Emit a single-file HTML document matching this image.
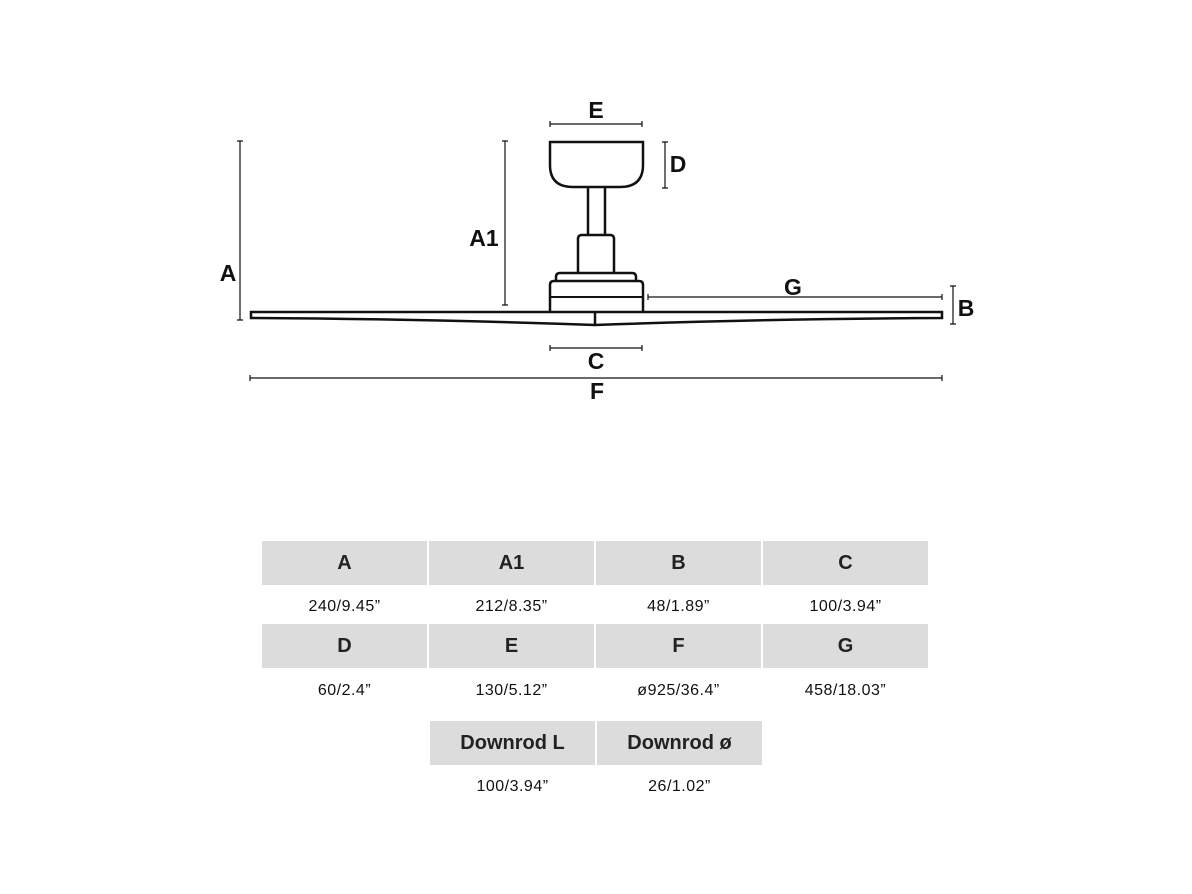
<!DOCTYPE html>
<html><head><style>
body{margin:0;background:#fff;width:1192px;height:894px;overflow:hidden;font-family:"Liberation Sans",sans-serif;position:relative}
.h{position:absolute;background:#dcdcdc;font-weight:bold;font-size:20px;color:#222;display:flex;align-items:center;justify-content:center;height:44px}
.v{position:absolute;font-size:16px;color:#111;text-align:center;letter-spacing:0.5px}
</style></head><body>
<svg width="1192" height="894" style="position:absolute;left:0;top:0" font-family="Liberation Sans, sans-serif" font-weight="bold" font-size="23" fill="none" stroke="#111">
<path d="M550 142 H643 V165 Q643 187 620 187 H573 Q550 187 550 165 Z" stroke-width="2.5"/>
<path d="M588 187 V235 M605 187 V235" stroke-width="2.5"/>
<path d="M578 273 V239 Q578 235 582 235 H610 Q614 235 614 239 V273" stroke-width="2.5"/>
<path d="M556 281 V277 Q556 273 560 273 H632 Q636 273 636 277 V281" stroke-width="2.5"/>
<path d="M550 312 V285 Q550 281 554 281 H639 Q643 281 643 285 V312" stroke-width="2.5"/>
<line x1="550" y1="297" x2="643" y2="297" stroke-width="2"/>
<path d="M251 312 H942 V318 Q760 319 595 325 Q430 319 251 318 Z" stroke-width="2.5"/>
<line x1="595" y1="313" x2="595" y2="325" stroke-width="2.5"/>
<g stroke-width="1.2">
<path d="M240 141 V320 M237 141 H243 M237 320 H243"/>
<path d="M505 141 V305 M502 141 H508 M502 305 H508"/>
<path d="M550 124 H642 M550 121 V127 M642 121 V127"/>
<path d="M665 142 V188 M662 142 H668 M662 188 H668"/>
<path d="M648 297 H942 M648 294 V300 M942 294 V300"/>
<path d="M953 286 V324 M950 286 H956 M950 324 H956"/>
<path d="M550 348 H642 M550 345 V351 M642 345 V351"/>
<path d="M250 378 H942 M250 375 V381 M942 375 V381"/>
</g>
<g fill="#111" stroke="none" text-anchor="middle">
<text x="596" y="118">E</text>
<text x="678" y="172">D</text>
<text x="484" y="246">A1</text>
<text x="228" y="281">A</text>
<text x="793" y="295">G</text>
<text x="966" y="316">B</text>
<text x="596" y="369">C</text>
<text x="597" y="399">F</text>
</g>
</svg>
<div class="h" style="left:262px;top:541px;width:165px">A</div>
<div class="h" style="left:429px;top:541px;width:165px">A1</div>
<div class="h" style="left:596px;top:541px;width:165px">B</div>
<div class="h" style="left:763px;top:541px;width:165px">C</div>
<div class="v" style="left:262px;top:598px;width:165px">240/9.45”</div>
<div class="v" style="left:429px;top:598px;width:165px">212/8.35”</div>
<div class="v" style="left:596px;top:598px;width:165px">48/1.89”</div>
<div class="v" style="left:763px;top:598px;width:165px">100/3.94”</div>
<div class="h" style="left:262px;top:624px;width:165px">D</div>
<div class="h" style="left:429px;top:624px;width:165px">E</div>
<div class="h" style="left:596px;top:624px;width:165px">F</div>
<div class="h" style="left:763px;top:624px;width:165px">G</div>
<div class="v" style="left:262px;top:682px;width:165px">60/2.4”</div>
<div class="v" style="left:429px;top:682px;width:165px">130/5.12”</div>
<div class="v" style="left:596px;top:682px;width:165px">ø925/36.4”</div>
<div class="v" style="left:763px;top:682px;width:165px">458/18.03”</div>
<div class="h" style="left:430px;top:721px;width:165px">Downrod L</div>
<div class="h" style="left:597px;top:721px;width:165px">Downrod ø</div>
<div class="v" style="left:430px;top:778px;width:165px">100/3.94”</div>
<div class="v" style="left:597px;top:778px;width:165px">26/1.02”</div>
</body></html>
